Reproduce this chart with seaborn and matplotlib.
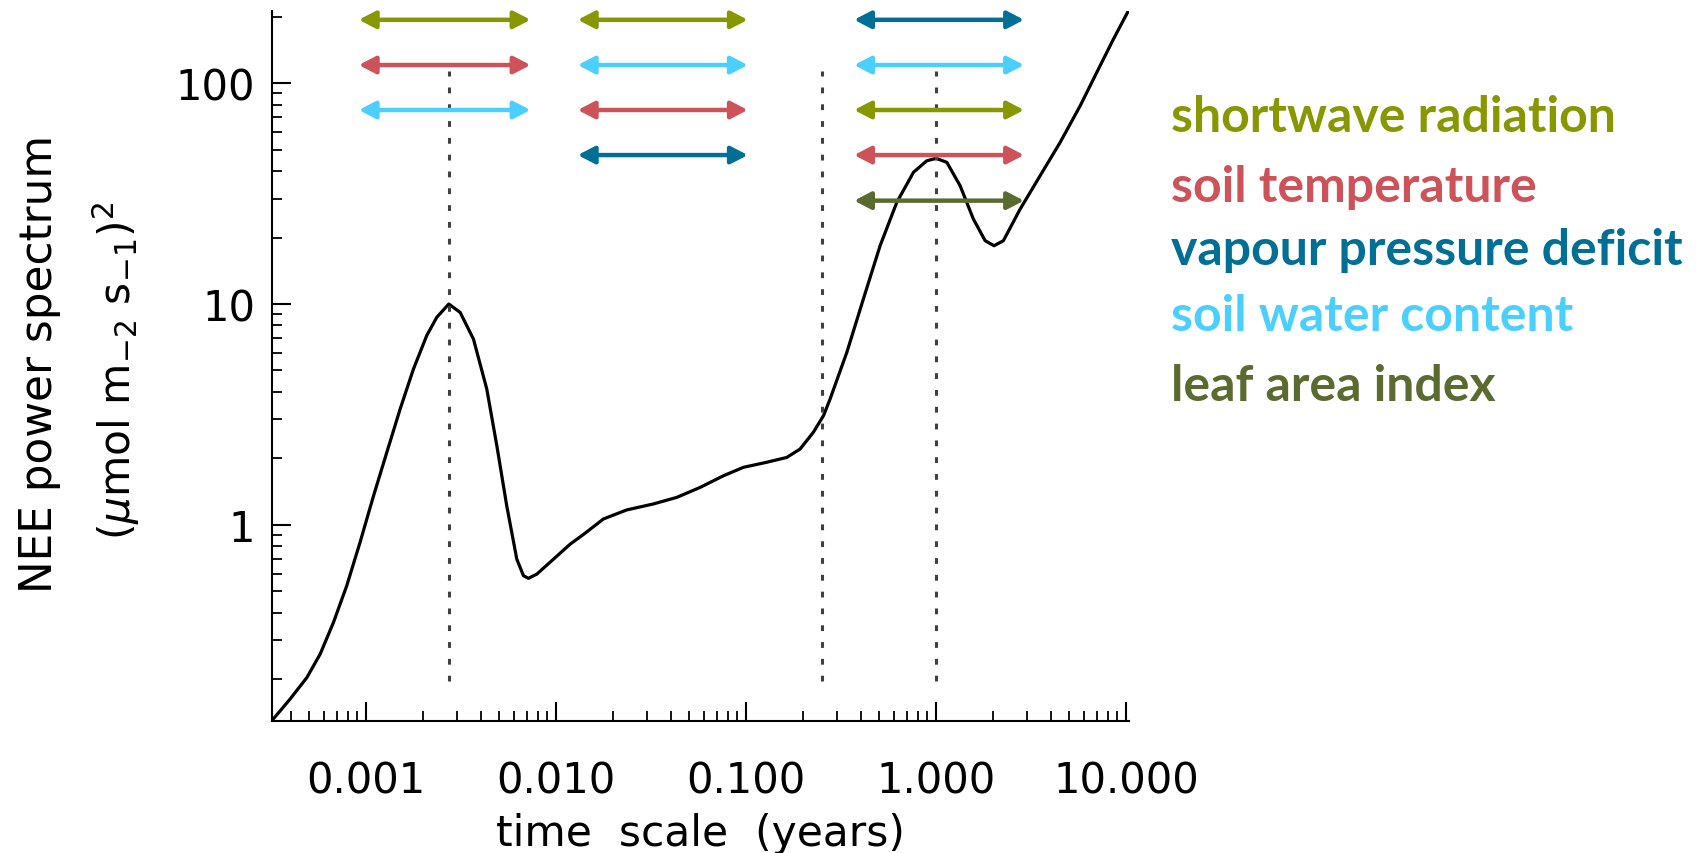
import matplotlib
matplotlib.use("Agg")
import matplotlib.pyplot as plt
import seaborn as sns
import pandas as pd
from matplotlib.ticker import LogLocator, FixedLocator, FixedFormatter, NullFormatter

# ---------------- data ----------------
time_years = [0.000319, 0.000398, 0.000488, 0.000573, 0.000673, 0.000791, 0.000929,
              0.001094, 0.001285, 0.00151, 0.001774, 0.002084, 0.002355, 0.002723,
              0.003126, 0.003673, 0.004315, 0.004875, 0.005495, 0.006209, 0.00673,
              0.007145, 0.00791, 0.00968, 0.01186, 0.01413, 0.01774, 0.02355, 0.03251,
              0.04315, 0.05728, 0.0760, 0.0968, 0.1285, 0.1637, 0.1923, 0.2259, 0.2553,
              0.2767, 0.3388, 0.414, 0.507, 0.621, 0.760, 0.893, 1.0, 1.138, 1.337,
              1.570, 1.811, 2.018, 2.259, 2.767, 3.524, 4.498, 5.728, 7.295, 8.57, 10.28]
power = [0.1294, 0.1622, 0.2032, 0.2594, 0.3606, 0.5297, 0.8318,
         1.352, 2.128, 3.342, 5.070, 7.194, 8.71, 10.0,
         9.16, 6.93, 4.12, 2.28, 1.219, 0.698, 0.5875,
         0.5715, 0.597, 0.698, 0.8166, 0.912, 1.062, 1.167, 1.242,
         1.330, 1.476, 1.667, 1.820, 1.919, 2.018, 2.203, 2.624, 3.119,
         3.715, 6.039, 10.54, 18.37, 28.91, 39.54, 44.57, 45.71, 43.85, 34.36,
         24.27, 19.36, 18.37, 19.36, 26.92, 38.11, 54.08, 79.07, 120.2, 158.5, 213.3]

peak_times = [0.00274, 0.25, 1.0]
dotted_span = [0.196, 114]

variables = ["shortwave radiation", "soil temperature", "vapour pressure deficit",
             "soil water content", "leaf area index"]
variable_colors = ["#879700", "#CD5259", "#006F96", "#4BCFFF", "#5B6B2F"]

band_starts = [0.000915, 0.0130, 0.370]
band_ends = [0.00733, 0.102, 2.90]
arrow_levels = [194, 121, 75.7, 47.3, 29.4]
band_variables = [
    ["shortwave radiation", "soil temperature", "soil water content"],
    ["shortwave radiation", "soil water content", "soil temperature", "vapour pressure deficit"],
    ["vapour pressure deficit", "soil water content", "shortwave radiation",
     "soil temperature", "leaf area index"],
]

x_ticks = [0.001, 0.01, 0.1, 1.0, 10.0]
x_tick_labels = ["0.001", "0.010", "0.100", "1.000", "10.000"]
y_ticks = [1, 10, 100]
y_tick_labels = ["1", "10", "100"]

x_label = "time  scale  (years)"
y_label_1 = "NEE power spectrum"
y_label_2 = r"($\mu$mol m$_{-2}$ s$_{-1}$)$^2$"

# ---------------- styling ----------------
sns.set_theme(style="ticks")
plt.rcParams["font.family"] = ["DejaVu Sans"]

fig = plt.figure(figsize=(16.99, 8.54), dpi=100)
ax = fig.add_axes([0.1600, 0.1549, 0.5046, 0.8314])

df = pd.DataFrame({"time": time_years, "power": power})
sns.lineplot(data=df, x="time", y="power", ax=ax, color="black", linewidth=2.3,
             sort=False, estimator=None)

ax.set_xscale("log")
ax.set_yscale("log")
ax.set_xlim(3.19e-4, 10.37)
ax.set_ylim(0.1294, 213.3)

ax.vlines(peak_times, dotted_span[0], dotted_span[1], colors="#404040",
          linewidth=2.2, linestyles=(0, (1.9, 3.6)))

color_of = dict(zip(variables, variable_colors))
for start, end, vars_ in zip(band_starts, band_ends, band_variables):
    for level, var in zip(arrow_levels, vars_):
        ax.annotate("", xy=(end, level), xytext=(start, level),
                    arrowprops=dict(arrowstyle="<|-|>,head_length=1.0,head_width=0.52",
                                    color=color_of[var], lw=3.2, mutation_scale=10,
                                    shrinkA=0, shrinkB=0),
                    annotation_clip=False)

for sp in ["top", "right"]:
    ax.spines[sp].set_visible(False)
for sp in ["left", "bottom"]:
    ax.spines[sp].set_linewidth(1.5)
    ax.spines[sp].set_color("black")

ax.xaxis.set_major_locator(FixedLocator(x_ticks))
ax.xaxis.set_major_formatter(FixedFormatter(x_tick_labels))
ax.yaxis.set_major_locator(FixedLocator(y_ticks))
ax.yaxis.set_major_formatter(FixedFormatter(y_tick_labels))
ax.xaxis.set_minor_locator(LogLocator(base=10, subs=range(2, 10), numticks=50))
ax.yaxis.set_minor_locator(LogLocator(base=10, subs=range(2, 10), numticks=50))
ax.xaxis.set_minor_formatter(NullFormatter())
ax.yaxis.set_minor_formatter(NullFormatter())

ax.tick_params(axis="both", which="major", direction="in", length=14, width=1.5,
               labelsize=30, colors="black")
ax.tick_params(axis="both", which="minor", direction="in", length=7, width=1.3,
               colors="black")
ax.tick_params(axis="x", which="major", pad=28)
ax.tick_params(axis="y", which="major", pad=12)

ax.set_xlabel(x_label, fontsize=30.5, color="black")
ax.xaxis.set_label_coords(0.5, -0.158)
ax.xaxis.label.set_va("center")

ax.set_ylabel(y_label_1, fontsize=31.5, color="black")
ax.yaxis.set_label_coords(-0.2715, 0.5045)
ax.yaxis.label.set_va("center")
ax.text(-0.181, 0.494, y_label_2, transform=ax.transAxes, rotation=90, fontsize=30.5,
        ha="center", va="center", color="black")

legend_y = [0.846, 0.764, 0.690, 0.612, 0.530]
for name, col, yy in zip(variables, variable_colors, legend_y):
    fig.text(0.689, yy, name, color=col, fontsize=36, fontfamily="Lato",
             fontweight="bold", ha="left", va="baseline")

fig.savefig("out.png", dpi=100, facecolor="white")
